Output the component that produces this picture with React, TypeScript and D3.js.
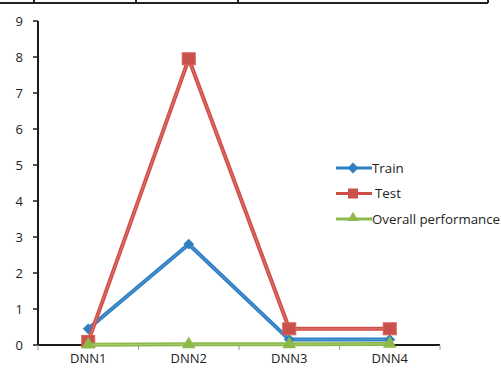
import React from "react";
import * as d3 from "d3";

const categories = ["DNN1", "DNN2", "DNN3", "DNN4"];
const trainValues = [0.45, 2.8, 0.15, 0.15];
const testValues = [0.1, 7.95, 0.45, 0.45];
const overallValues = [0.01, 0.02, 0.02, 0.03];
const yTicks = [0, 1, 2, 3, 4, 5, 6, 7, 8, 9];
const seriesNames = ["Train", "Test", "Overall performance"];

const W = 501, H = 369;
const FONT = "'Open Sans', 'Liberation Sans', sans-serif";

export default function App() {
  const x = d3.scaleBand<string>().domain(categories).range([38, 440]);
  const y = d3.scaleLinear().domain([0, 9]).range([345, 21]);
  const cx = (c: string) => (x(c) as number) + x.bandwidth() / 2;
  const line = d3.line<[number, number]>().x(d => d[0]).y(d => d[1]);

  const series = [
    { name: seriesNames[0], values: trainValues, color: "#2F7FC2", light: "#6AAAE0", marker: "diamond" },
    { name: seriesNames[1], values: testValues, color: "#CF4F48", light: "#E88A84", marker: "square" },
    { name: seriesNames[2], values: overallValues, color: "#8CB94A", light: "#B5D67E", marker: "triangle" },
  ];

  const marker = (type: string, px: number, py: number, color: string, key: string) => {
    if (type === "diamond") {
      const s = d3.symbol().type(d3.symbolDiamond2).size(75)();
      return <path key={key} d={s as string} transform={`translate(${px},${py})`} fill={color} />;
    }
    if (type === "square") {
      return <rect key={key} x={px - 6.5} y={py - 6} width={13} height={12} fill="#C9504B" stroke="#D9605A" strokeWidth={1} />;
    }
    const s = d3.symbol().type(d3.symbolTriangle).size(80)();
    return <path key={key} d={s as string} transform={`translate(${px},${py})`} fill={color} />;
  };

  const boundaries = [...categories.map(c => x(c) as number), 440];

  return (
    <svg width={W} height={H} style={{ position: "absolute", left: 0, top: 0, background: "#fff" }}>
      {/* top table border */}
      <line x1={0} x2={488} y1={3} y2={3} stroke="#222" strokeWidth={2} />
      {[34, 136, 238, 488].map(v => (
        <line key={v} x1={v} x2={v} y1={0} y2={3} stroke="#222" strokeWidth={2} />
      ))}

      {/* y axis */}
      <line x1={38} x2={38} y1={y(9)} y2={y(0)} stroke="#1a1a1a" strokeWidth={2} />
      {yTicks.map(t => (
        <g key={t}>
          <line x1={33} x2={38} y1={y(t)} y2={y(t)} stroke="#1a1a1a" strokeWidth={1.5} />
          <text x={23} y={y(t)} dy="0.35em" textAnchor="end" fontFamily={FONT} fontSize={13} fill="#222">{t}</text>
        </g>
      ))}

      {/* x axis */}
      <line x1={38} x2={440} y1={y(0)} y2={y(0)} stroke="#1a1a1a" strokeWidth={2} />
      {boundaries.map((b, i) => (
        <line key={i} x1={b} x2={b} y1={y(0)} y2={y(0) + 5} stroke="#9aa" strokeWidth={1.2} />
      ))}
      {categories.map(c => (
        <text key={c} x={cx(c)} y={363} textAnchor="middle" fontFamily={FONT} fontSize={13} fill="#222">{c}</text>
      ))}

      {/* series */}
      {series.map(s => {
        const pts = categories.map((c, i) => [cx(c), y(s.values[i])] as [number, number]);
        return (
          <g key={s.name}>
            <path d={line(pts) as string} fill="none" stroke={s.color} strokeWidth={4} strokeLinejoin="round" />
            <path d={line(pts) as string} fill="none" stroke={s.light} strokeWidth={0.8} strokeLinejoin="round" opacity={0.8} />
            {pts.map((p, i) => marker(s.marker, p[0], p[1], s.color, s.name + i))}
          </g>
        );
      })}

      {/* legend */}
      {series.map((s, i) => {
        const ly = 168 + i * 25.5;
        return (
          <g key={s.name}>
            <line x1={336} x2={372} y1={ly} y2={ly} stroke={s.color} strokeWidth={3} />
            {s.marker === "diamond" && marker("diamond", 353, ly, s.color, "l" + i)}
            {s.marker === "square" && <rect x={348} y={ly - 5} width={10} height={10} fill="#C9504B" />}
            {s.marker === "triangle" && (
              <path d={d3.symbol().type(d3.symbolTriangle).size(50)() as string} transform={`translate(353,${ly - 1})`} fill={s.color} />
            )}
            <text x={i === 1 ? 375 : 372} y={ly} dy="0.35em" fontFamily={FONT} fontSize={13.3} fill="#222">{s.name}</text>
          </g>
        );
      })}
    </svg>
  );
}
